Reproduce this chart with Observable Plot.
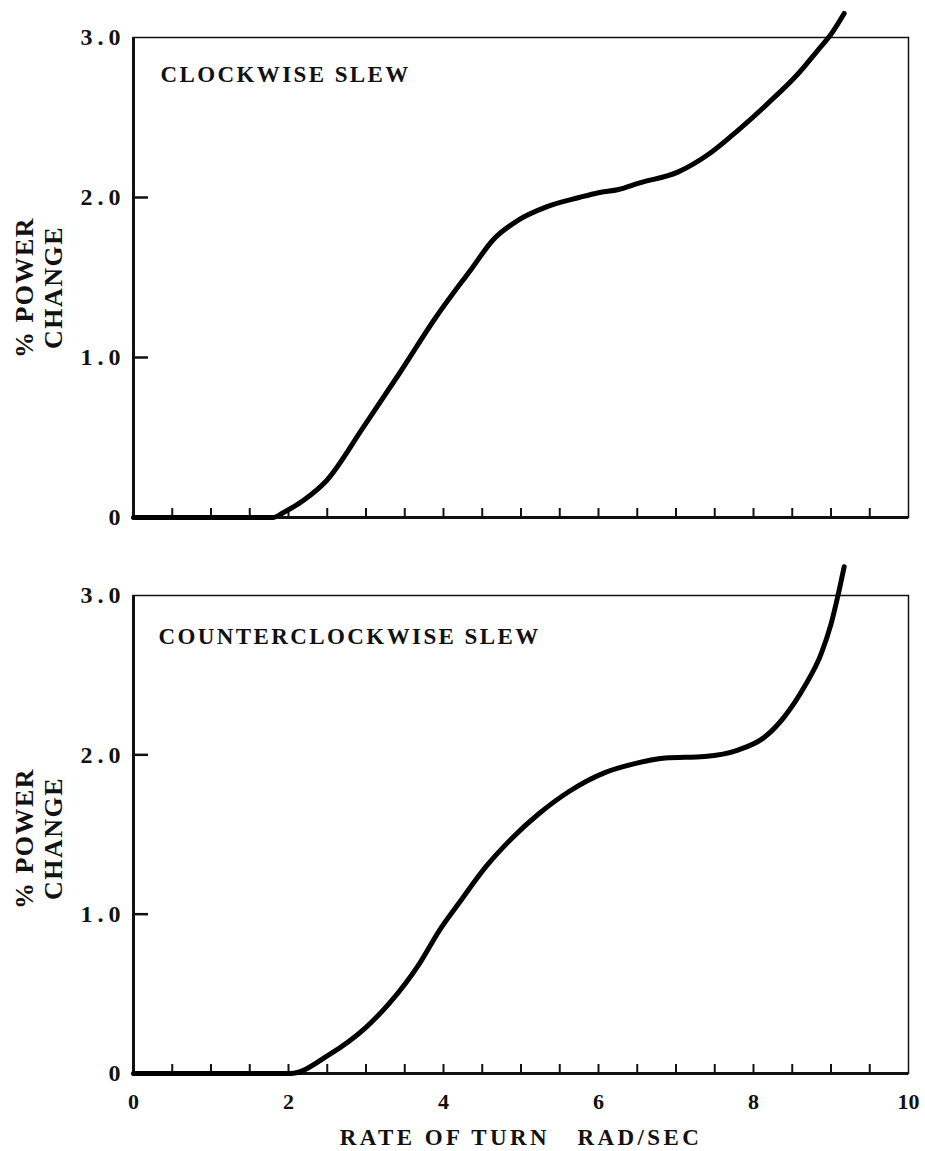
<!DOCTYPE html>
<html><head><meta charset="utf-8">
<script src="https://cdn.jsdelivr.net/npm/d3@7"></script>
<script src="https://cdn.jsdelivr.net/npm/@observablehq/plot@0.6"></script>
<style>
body{margin:0;background:#fff}
#chart svg{display:block;overflow:visible}
g[aria-label="y-axis tick label"] text{letter-spacing:5px}
</style>
</head><body><div id="chart"></div>
<script>
// Clockwise slew
const cwRate  = [0, 0.5, 1.0, 1.5, 1.8, 1.93, 2.2, 2.49, 2.96, 3.43, 3.90, 4.37, 4.63, 4.97, 5.32, 5.75, 6.0, 6.26, 6.52, 7.03, 7.42, 7.80, 8.19, 8.57, 8.83, 9.0, 9.17];
const cwPower = [0, 0, 0, 0, 0, 0.03, 0.11, 0.23, 0.56, 0.90, 1.25, 1.56, 1.73, 1.86, 1.94, 2.00, 2.03, 2.05, 2.09, 2.16, 2.27, 2.42, 2.59, 2.77, 2.92, 3.02, 3.15];
// Counterclockwise slew
const ccwRate  = [0, 0.5, 1.0, 1.5, 2.02, 2.53, 3.0, 3.30, 3.69, 3.95, 4.20, 4.55, 4.89, 5.23, 5.62, 6.09, 6.43, 6.86, 7.37, 7.80, 8.14, 8.40, 8.66, 8.87, 9.0, 9.09, 9.17];
const ccwPower = [0, 0, 0, 0, 0, 0.12, 0.29, 0.44, 0.69, 0.90, 1.07, 1.30, 1.48, 1.63, 1.77, 1.89, 1.94, 1.98, 1.99, 2.03, 2.11, 2.24, 2.43, 2.63, 2.82, 3.00, 3.18];

const xMinorTicks = [0.5,1,1.5,2,2.5,3,3.5,4,4.5,5,5.5,6,6.5,7,7.5,8,8.5,9,9.5];
const xLabelTicks = [0, 2, 4, 6, 8, 10];
const yLabelTicks = [0, 1, 2, 3];
const yInnerTicks = [1, 2];
const xTitle = "RATE OF TURN\u00a0\u00a0\u00a0RAD/SEC";
const yTitle = "% POWER\nCHANGE";
const titles = ["CLOCKWISE SLEW", "COUNTERCLOCKWISE SLEW"];

function panel({rate, power, title, height, marginTop, marginBottom, showX, titleDx, titleDy, yTitleDy}) {
  const data = rate.map((r, i) => ({rate: r, power: power[i]}));
  const svg = Plot.plot({
    width: 925, height, marginLeft: 133, marginRight: 17, marginTop, marginBottom,
    x: {domain: [0, 10], label: null},
    y: {domain: [0, 3], label: null},
    style: {fontFamily: "'Liberation Serif', 'DejaVu Serif', serif", color: "#111", background: "#fff", fontSize: "22px"},
    marks: [
      Plot.frame({stroke: "#111", strokeWidth: 1.5}),
      Plot.ruleX([0], {stroke: "#111", strokeWidth: 3}),
      Plot.ruleY([0], {stroke: "#111", strokeWidth: 3}),
      Plot.axisX({ticks: xMinorTicks, tickSize: -9, tickFormat: () => "", strokeWidth: 2, label: null}),
      showX ? Plot.axisX({ticks: xLabelTicks, tickSize: 0, tickPadding: 20, fontSize: 22, fontWeight: "bold", label: null}) : null,
      showX ? Plot.text([xTitle], {frameAnchor: "bottom", dy: 71, fontSize: 23, fontWeight: "bold"}) : null,
      Plot.axisY({ticks: yInnerTicks, tickSize: -15, tickFormat: () => "", strokeWidth: 2.5, label: null}),
      Plot.axisY({ticks: yLabelTicks, tickSize: 0, tickPadding: 8, fontSize: 24, fontWeight: "bold",
        tickFormat: d => d === 0 ? "0" : d.toFixed(1), label: null}),
      Plot.text([title], {frameAnchor: "top-left", dx: titleDx, dy: titleDy, textAnchor: "start", fontSize: 23, fontWeight: "bold"}),
      Plot.text([yTitle], {frameAnchor: "left", textAnchor: "middle", dx: -95, dy: yTitleDy, rotate: -90, fontSize: 26, fontWeight: "bold", lineHeight: 1.08}),
      Plot.line(data, {x: "rate", y: "power", stroke: "#000", strokeWidth: 5, curve: "monotone-x", strokeLinecap: "round"})
    ]
  });
  // letter spacing for the typewriter-style labels
  d3.select(svg).selectAll("text").each(function() {
    const t = this.textContent;
    if (t === title) this.style.letterSpacing = "2.4px";
    else if (t === xTitle) this.style.letterSpacing = "3.4px";
    else if (t.startsWith("%")) this.style.letterSpacing = "1.5px";
  });
  return svg;
}

const root = document.getElementById("chart");
root.append(panel({rate: cwRate, power: cwPower, title: titles[0], height: 540, marginTop: 37, marginBottom: 23, showX: false, titleDx: 27, titleDy: 28, yTitleDy: 10}));
root.append(panel({rate: ccwRate, power: ccwPower, title: titles[1], height: 611, marginTop: 55, marginBottom: 78, showX: true, titleDx: 25, titleDy: 32, yTitleDy: 4}));
</script>
</body></html>
